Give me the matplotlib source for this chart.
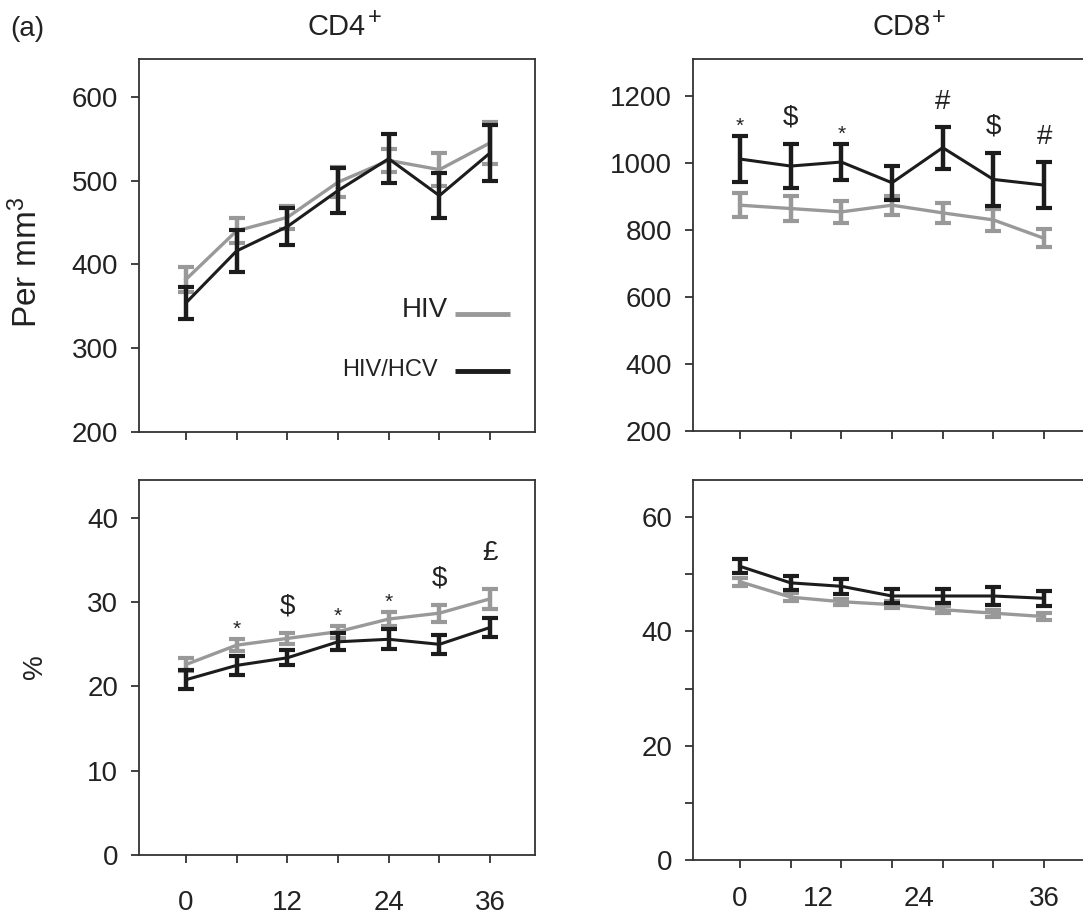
import matplotlib
matplotlib.use("Agg")
import matplotlib.pyplot as plt

plt.rcParams['font.family'] = ['Liberation Sans', 'DejaVu Sans']
plt.rcParams['mathtext.fontset'] = 'custom'
plt.rcParams['mathtext.rm'] = 'Liberation Sans'
plt.rcParams['mathtext.it'] = 'Liberation Sans:italic'
plt.rcParams['mathtext.bf'] = 'Liberation Sans:bold'

# months since start of follow-up
months = [0, 6, 12, 18, 24, 30, 36]

# CD4+ absolute counts (per mm3), mean and error
cd4_abs_hiv = [382, 440, 456, 498, 524, 513, 545]
cd4_abs_hiv_err = [15, 15, 14, 18, 14, 20, 25]
cd4_abs_coinf = [354, 416, 445, 488, 526, 482, 533]
cd4_abs_coinf_err = [19, 25, 22, 27, 29, 27, 33]

# CD8+ absolute counts (per mm3)
cd8_abs_hiv = [875, 865, 855, 875, 852, 831, 776]
cd8_abs_hiv_err = [36, 36, 32, 28, 29, 32, 27]
cd8_abs_coinf = [1013, 992, 1004, 942, 1047, 952, 935]
cd8_abs_coinf_err = [68, 66, 54, 51, 63, 79, 68]

# CD4+ percentage
cd4_pct_hiv = [22.6, 24.9, 25.7, 26.5, 28.0, 28.7, 30.4]
cd4_pct_hiv_err = [0.8, 0.7, 0.7, 0.7, 0.8, 1.0, 1.15]
cd4_pct_coinf = [20.8, 22.5, 23.4, 25.3, 25.6, 25.0, 27.0]
cd4_pct_coinf_err = [1.1, 1.1, 0.9, 1.0, 1.2, 1.1, 1.1]

# CD8+ percentage
cd8_pct_hiv = [48.7, 46.0, 45.2, 44.7, 43.8, 43.2, 42.6]
cd8_pct_hiv_err = [0.7, 0.7, 0.5, 0.6, 0.6, 0.6, 0.6]
cd8_pct_coinf = [51.4, 48.5, 47.9, 46.2, 46.2, 46.2, 45.8]
cd8_pct_coinf_err = [1.2, 1.2, 1.3, 1.2, 1.2, 1.6, 1.3]

# significance symbols per time point
cd8_abs_marks = ["*", "$", "*", "", "#", "$", "#"]
cd4_pct_marks = ["", "*", "$", "*", "*", "$", "£"]

labels = ["HIV", "HIV/HCV"]

GRAY = "#999999"
BLACK = "#1c1c1c"
AXCOL = "#333333"
TXT = "#222222"

W, H = 1083, 916
fig = plt.figure(figsize=(W / 100, H / 100), dpi=100)

PX_PER_MONTH = 8.45


def rect(left, top, right, bottom):
    return [left / W, 1 - bottom / H, (right - left) / W, (bottom - top) / H]


def style_axes(ax, width_px, ylim, yticks, ylabels=None, xpad=19):
    ax.set_xlim(-5.55, -5.55 + width_px / PX_PER_MONTH)
    ax.set_ylim(*ylim)
    for s in ax.spines.values():
        s.set_color(AXCOL)
        s.set_linewidth(1.3)
    ax.set_yticks(yticks)
    if ylabels is not None:
        ax.set_yticklabels(ylabels)
    ax.set_xticks(months)
    ax.tick_params(axis="both", direction="out", length=6, width=1.3,
                   color=AXCOL, labelsize=20, labelcolor=TXT)
    ax.tick_params(axis="y", pad=9)
    ax.tick_params(axis="x", pad=xpad)
    ax.tick_params(top=False, right=False)


def draw(ax, hiv, hiv_err, coinf, coinf_err):
    ax.errorbar(months, hiv, yerr=hiv_err, color=GRAY, lw=2.4,
                elinewidth=3.2, capsize=6, capthick=3, zorder=2)
    ax.errorbar(months, coinf, yerr=coinf_err, color=BLACK, lw=2.2,
                elinewidth=3.2, capsize=6, capthick=3, zorder=3)


def panel_title(ax, name):
    t = ax.set_title(name, fontsize=21, pad=17, color=TXT)
    ax.annotate("+", xy=(1, 1), xycoords=t, xytext=(1, -3),
                textcoords="offset points", ha="left", va="center",
                fontsize=17, color=TXT)


mark_style = {"*": (7, 15), "$": (19, 20), "#": (18, 20), "£": (26, 20)}


def add_marks(ax, vals, errs, marks):
    for x, v, e, m in zip(months, vals, errs, marks):
        if not m:
            continue
        off, size = mark_style[m]
        ax.annotate(m, (x, v + e), xytext=(0, off), textcoords="offset points",
                    ha="center", va="center", fontsize=size, color=TXT,
                    parse_math=False, annotation_clip=False)


# CD4+ per mm3
ax1 = fig.add_axes(rect(139, 59, 535, 432))
draw(ax1, cd4_abs_hiv, cd4_abs_hiv_err, cd4_abs_coinf, cd4_abs_coinf_err)
style_axes(ax1, 396, (200, 645), [200, 300, 400, 500, 600])
ax1.set_xticklabels([])
panel_title(ax1, "CD4")

# hand-made key in the lower right of the first panel
ax1.text(0.78, 0.327, labels[0], transform=ax1.transAxes, ha="right",
         va="center", fontsize=20, color=TXT)
ax1.plot([0.798, 0.937], [0.316, 0.316], transform=ax1.transAxes,
         color=GRAY, lw=3.5, solid_capstyle="butt")
ax1.text(0.755, 0.166, labels[1], transform=ax1.transAxes, ha="right",
         va="center", fontsize=17, color=TXT)
ax1.plot([0.798, 0.937], [0.164, 0.164], transform=ax1.transAxes,
         color=BLACK, lw=3.5, solid_capstyle="butt")

# CD8+ per mm3 (box runs off the right edge)
ax2 = fig.add_axes(rect(693, 59, 1110, 431))
draw(ax2, cd8_abs_hiv, cd8_abs_hiv_err, cd8_abs_coinf, cd8_abs_coinf_err)
style_axes(ax2, 417, (200, 1312), [200, 400, 600, 800, 1000, 1200])
ax2.set_xticklabels([])
panel_title(ax2, "CD8")
add_marks(ax2, cd8_abs_coinf, cd8_abs_coinf_err, cd8_abs_marks)

# CD4+ %
ax3 = fig.add_axes(rect(139, 480, 535, 855))
draw(ax3, cd4_pct_hiv, cd4_pct_hiv_err, cd4_pct_coinf, cd4_pct_coinf_err)
style_axes(ax3, 396, (0, 44.5), [0, 10, 20, 30, 40])
ax3.set_xticklabels(["0", "", "12", "", "24", "", "36"])
add_marks(ax3, cd4_pct_hiv, cd4_pct_hiv_err, cd4_pct_marks)

# CD8+ %
ax4 = fig.add_axes(rect(693, 480, 1110, 860))
draw(ax4, cd8_pct_hiv, cd8_pct_hiv_err, cd8_pct_coinf, cd8_pct_coinf_err)
style_axes(ax4, 417, (0, 66.5), [0, 10, 20, 30, 40, 50, 60],
           ["0", "", "20", "", "40", "", "60"])
ax4.set_xticklabels([])
ax4.xaxis.remove_overlapping_locs = False
ax4.set_xticks([0, 9.3, 21.2, 36], labels=["0", "12", "24", "36"], minor=True)
ax4.tick_params(axis="x", which="minor", length=0, pad=19,
                labelsize=20, labelcolor=TXT)

fig.text(10 / W, 1 - 36 / H, "(a)", fontsize=20, va="baseline", color=TXT)
fig.text(27 / W, 1 - 262 / H, r"Per mm$^{3}$", rotation=90, fontsize=24,
         ha="center", va="center", color=TXT)
fig.text(35 / W, 1 - 667 / H, "%", rotation=90, fontsize=20,
         ha="center", va="center", color=TXT)

fig.savefig("out.png", dpi=100)
